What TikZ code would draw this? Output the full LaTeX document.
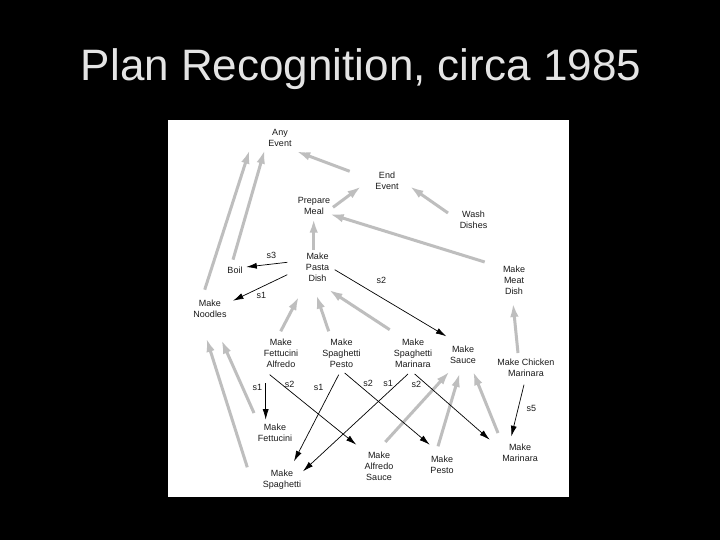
\documentclass[tikz,border=0pt]{standalone}
\usepackage{fontspec}
\setmainfont{Liberation Sans}
\usetikzlibrary{arrows.meta}
\definecolor{garr}{HTML}{BEBEBE}
\definecolor{titlecol}{HTML}{E4E4E4}
\definecolor{txt}{HTML}{1A1A1A}
\tikzset{
  lbl/.style={font=\fontsize{9}{11}\selectfont, text=txt, align=center, inner sep=0pt},
  slbl/.style={font=\fontsize{9}{11}\selectfont, text=txt, inner sep=0pt},
  garrow/.style={draw=garr, line width=3pt, -{Latex[length=14pt,width=8.5pt]}},
  barrow/.style={draw=black, line width=0.7pt, -{Latex[length=10.5pt,width=6pt]}}
}
\begin{document}
\begin{tikzpicture}[x=1pt,y=-1pt]
\useasboundingbox (0,0) rectangle (720,540);
\fill[black] (0,0) rectangle (720,540);
\fill[white] (168,120) rectangle (569,497);
\node[font=\fontsize{44}{50}\selectfont, text=titlecol, anchor=base] (title) at (361,81) {Plan Recognition, circa 1985};

% nodes
\node[lbl] (ae) at (280,138) {Any\\Event};
\node[lbl] (ee) at (387,180.5) {End\\Event};
\node[lbl] (pm) at (314,206) {Prepare\\Meal};
\node[lbl] (wd) at (473.5,219.5) {Wash\\Dishes};
\node[lbl] (pd) at (317.5,267) {Make\\Pasta\\Dish};
\node[lbl] (boil) at (235,270) {Boil};
\node[lbl] (mn) at (210,308.5) {Make\\Noodles};
\node[lbl] (md) at (514,280) {Make\\Meat\\Dish};
\node[lbl] (mfa) at (281,353) {Make\\Fettucini\\Alfredo};
\node[lbl] (msp) at (341.5,353) {Make\\Spaghetti\\Pesto};
\node[lbl] (msm) at (413,353) {Make\\Spaghetti\\Marinara};
\node[lbl] (ms) at (463,354.5) {Make\\Sauce};
\node[lbl] (mcm) at (526,367.5) {Make Chicken\\Marinara};
\node[lbl] (mf) at (275,432.5) {Make\\Fettucini};
\node[lbl] (msg) at (282,480) {Make\\Spaghetti};
\node[lbl] (mas) at (379,466) {Make\\Alfredo\\Sauce};
\node[lbl] (mp) at (442,464.5) {Make\\Pesto};
\node[lbl] (mm) at (520,452.5) {Make\\Marinara};

% grey abstraction arrows
\draw[garrow] ([shift={(-5.3,-18.8)}]mn.center) -- ([shift={(-30.3,11.7)}]ae.center);
\draw[garrow] ([shift={(-2,-10.3)}]boil.center) -- ([shift={(-15.3,11.7)}]ae.center);
\draw[garrow] ([shift={(-37.3,-9.2)}]ee.center) -- ([shift={(16.3,13.3)}]ae.center);
\draw[garrow] ([shift={(19,1.3)}]pm.center) -- ([shift={(-25.7,5.8)}]ee.center);
\draw[garrow] ([shift={(-25.5,-6.5)}]wd.center) -- ([shift={(22.7,5.8)}]ee.center);
\draw[garrow] ([shift={(-29.3,-18)}]md.center) -- ([shift={(15.7,8)}]pm.center);
\draw[garrow] ([shift={(-3.8,-17.3)}]pd.center) -- ([shift={(-0.3,12.7)}]pm.center);
\draw[garrow] ([shift={(-0.3,-21.7)}]mfa.center) -- ([shift={(-18.5,29.3)}]pd.center);
\draw[garrow] ([shift={(-12.8,-21.7)}]msp.center) -- ([shift={(-1.2,27.7)}]pd.center);
\draw[garrow] ([shift={(-23.3,-23.3)}]msm.center) -- ([shift={(11.2,22.7)}]pd.center);
\draw[garrow] ([shift={(-8,-14.5)}]mcm.center) -- ([shift={(-1,23)}]md.center);
\draw[garrow] ([shift={(-21,-19.5)}]mf.center) -- ([shift={(11.3,31.2)}]mn.center);
\draw[garrow] ([shift={(-34.7,-12.7)}]msg.center) -- ([shift={(-3.7,29.5)}]mn.center);
\draw[garrow] ([shift={(6.3,-24)}]mas.center) -- ([shift={(-13.3,16.8)}]ms.center);
\draw[garrow] ([shift={(-4,-18.2)}]mp.center) -- ([shift={(-3.3,18.5)}]ms.center);
\draw[garrow] ([shift={(-22,-19.5)}]mm.center) -- ([shift={(10,16.8)}]ms.center);

% black decomposition arrows
\draw[barrow] ([shift={(-30.2,-4.7)}]pd.center) -- ([shift={(11.3,-3)}]boil.center);
\draw[barrow] ([shift={(-30.2,7.7)}]pd.center) -- ([shift={(23,-7.8)}]mn.center);
\draw[barrow] ([shift={(17.2,2.7)}]pd.center) -- ([shift={(-16.7,-18.2)}]ms.center);
\draw[barrow] ([shift={(-15.3,30)}]mfa.center) -- ([shift={(-9.3,-12.8)}]mf.center);
\draw[barrow] ([shift={(-11.3,21.7)}]mfa.center) -- ([shift={(-22.7,-21.3)}]mas.center);
\draw[barrow] ([shift={(-2.8,21.7)}]msp.center) -- ([shift={(12,-18.7)}]msg.center);
\draw[barrow] ([shift={(3.2,20)}]msp.center) -- ([shift={(-12.3,-19.8)}]mp.center);
\draw[barrow] ([shift={(-5,21)}]msm.center) -- ([shift={(21,-8.7)}]msg.center);
\draw[barrow] ([shift={(1.7,21)}]msm.center) -- ([shift={(-30.3,-12.8)}]mm.center);
\draw[barrow] ([shift={(-2,17.2)}]mcm.center) -- ([shift={(-8.7,-16.2)}]mm.center);

% step labels
\node[slbl] (l1) at (271.3,255.7) {s3};
\node[slbl] (l2) at (261.3,295.7) {s1};
\node[slbl] (l3) at (381.3,280.3) {s2};
\node[slbl] (l4) at (257.3,387.3) {s1};
\node[slbl] (l5) at (289.7,384.7) {s2};
\node[slbl] (l6) at (318.7,387.3) {s1};
\node[slbl] (l7) at (368,383) {s2};
\node[slbl] (l8) at (388,383.7) {s1};
\node[slbl] (l9) at (416.3,384.7) {s2};
\node[slbl] (l10) at (531.3,408) {s5};
\end{tikzpicture}
\end{document}
